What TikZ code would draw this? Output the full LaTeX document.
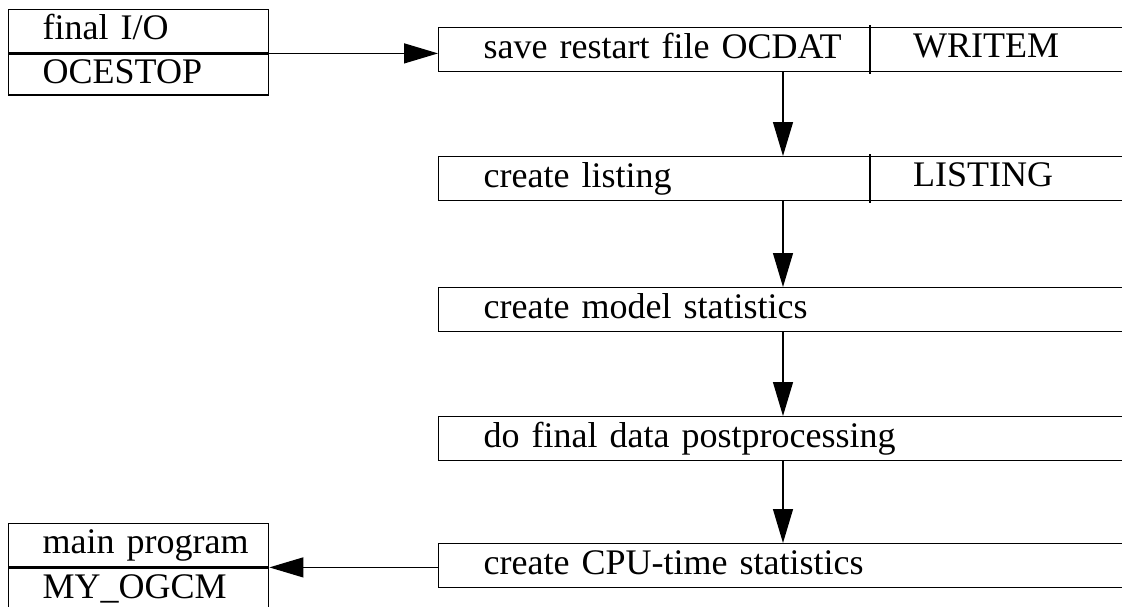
\documentclass[tikz,border=0pt]{standalone}
\usepackage{fontspec}
\setmainfont{Liberation Serif}
\usetikzlibrary{arrows.meta,calc}
\begin{document}
\begin{tikzpicture}[x=1pt,y=-1pt,
  every node/.style={font=\fontsize{36}{40}\selectfont},
  stepbox/.style={draw, line width=1.4pt, anchor=north west,
    minimum height=44pt, inner xsep=45pt, inner ysep=0pt,
    text width=630pt, align=left, text height=25pt, text depth=8pt},
  unitbox/.style={draw, line width=1.4pt, anchor=north west,
    inner xsep=34pt, inner ysep=0pt, text width=192pt,
    text height=25pt, text depth=8pt},
  modlabel/.style={anchor=base west, inner sep=0pt},
  divider/.style={line width=1.4pt},
  arr/.style={line width=1.3pt, -{Triangle[length=34pt,width=20pt]}}]
\useasboundingbox (0,0) rectangle (1122,606);
\clip (0,0) rectangle (1122,606);

% calling and called units: description over routine name
\node[unitbox, minimum height=43pt] (fio) at (8,9) {\mbox{final I/O}\hfill};
\node[unitbox, minimum height=41pt] (fiomod) at (fio.south west) {\mbox{OCESTOP}\hfill};
\node[unitbox, minimum height=43pt] (mainprog) at (8,523) {\mbox{main program}\hfill};
\node[unitbox, minimum height=43pt] (mainmod) at (mainprog.south west) {\mbox{MY\_OGCM}\hfill};

% processing steps
\node[stepbox] (save)    at (438,27)  {save restart file OCDAT};
\node[stepbox] (listing) at (438,156) {create listing};
\node[stepbox] (model)   at (438,287) {create model statistics};
\node[stepbox] (post)    at (438,416) {do final data postprocessing};
\node[stepbox] (cpu)     at (438,543) {create CPU-time statistics};

% subroutine columns
\coordinate (dv) at (870,0);
\draw[divider] ($(save.north -| dv)+(0,-2)$) -- ($(save.south -| dv)+(0,2)$);
\draw[divider] ($(listing.north -| dv)+(0,-2)$) -- ($(listing.south -| dv)+(0,2)$);
\node[modlabel] (writem) at (913,57.5) {WRITEM};
\node[modlabel] (lst)    at (913,186.5) {LISTING};

% flow
\coordinate (ax) at (783,0);
\draw[arr] (fio.south east) -- (fio.south east -| save.west);
\draw[arr] (save.south -| ax) -- (listing.north -| ax);
\draw[arr] (listing.south -| ax) -- (model.north -| ax);
\draw[arr] (model.south -| ax) -- (post.north -| ax);
\draw[arr] (post.south -| ax) -- (cpu.north -| ax);
\draw[arr] (cpu.west |- mainprog.south east) -- (mainprog.south east);
\end{tikzpicture}
\end{document}
